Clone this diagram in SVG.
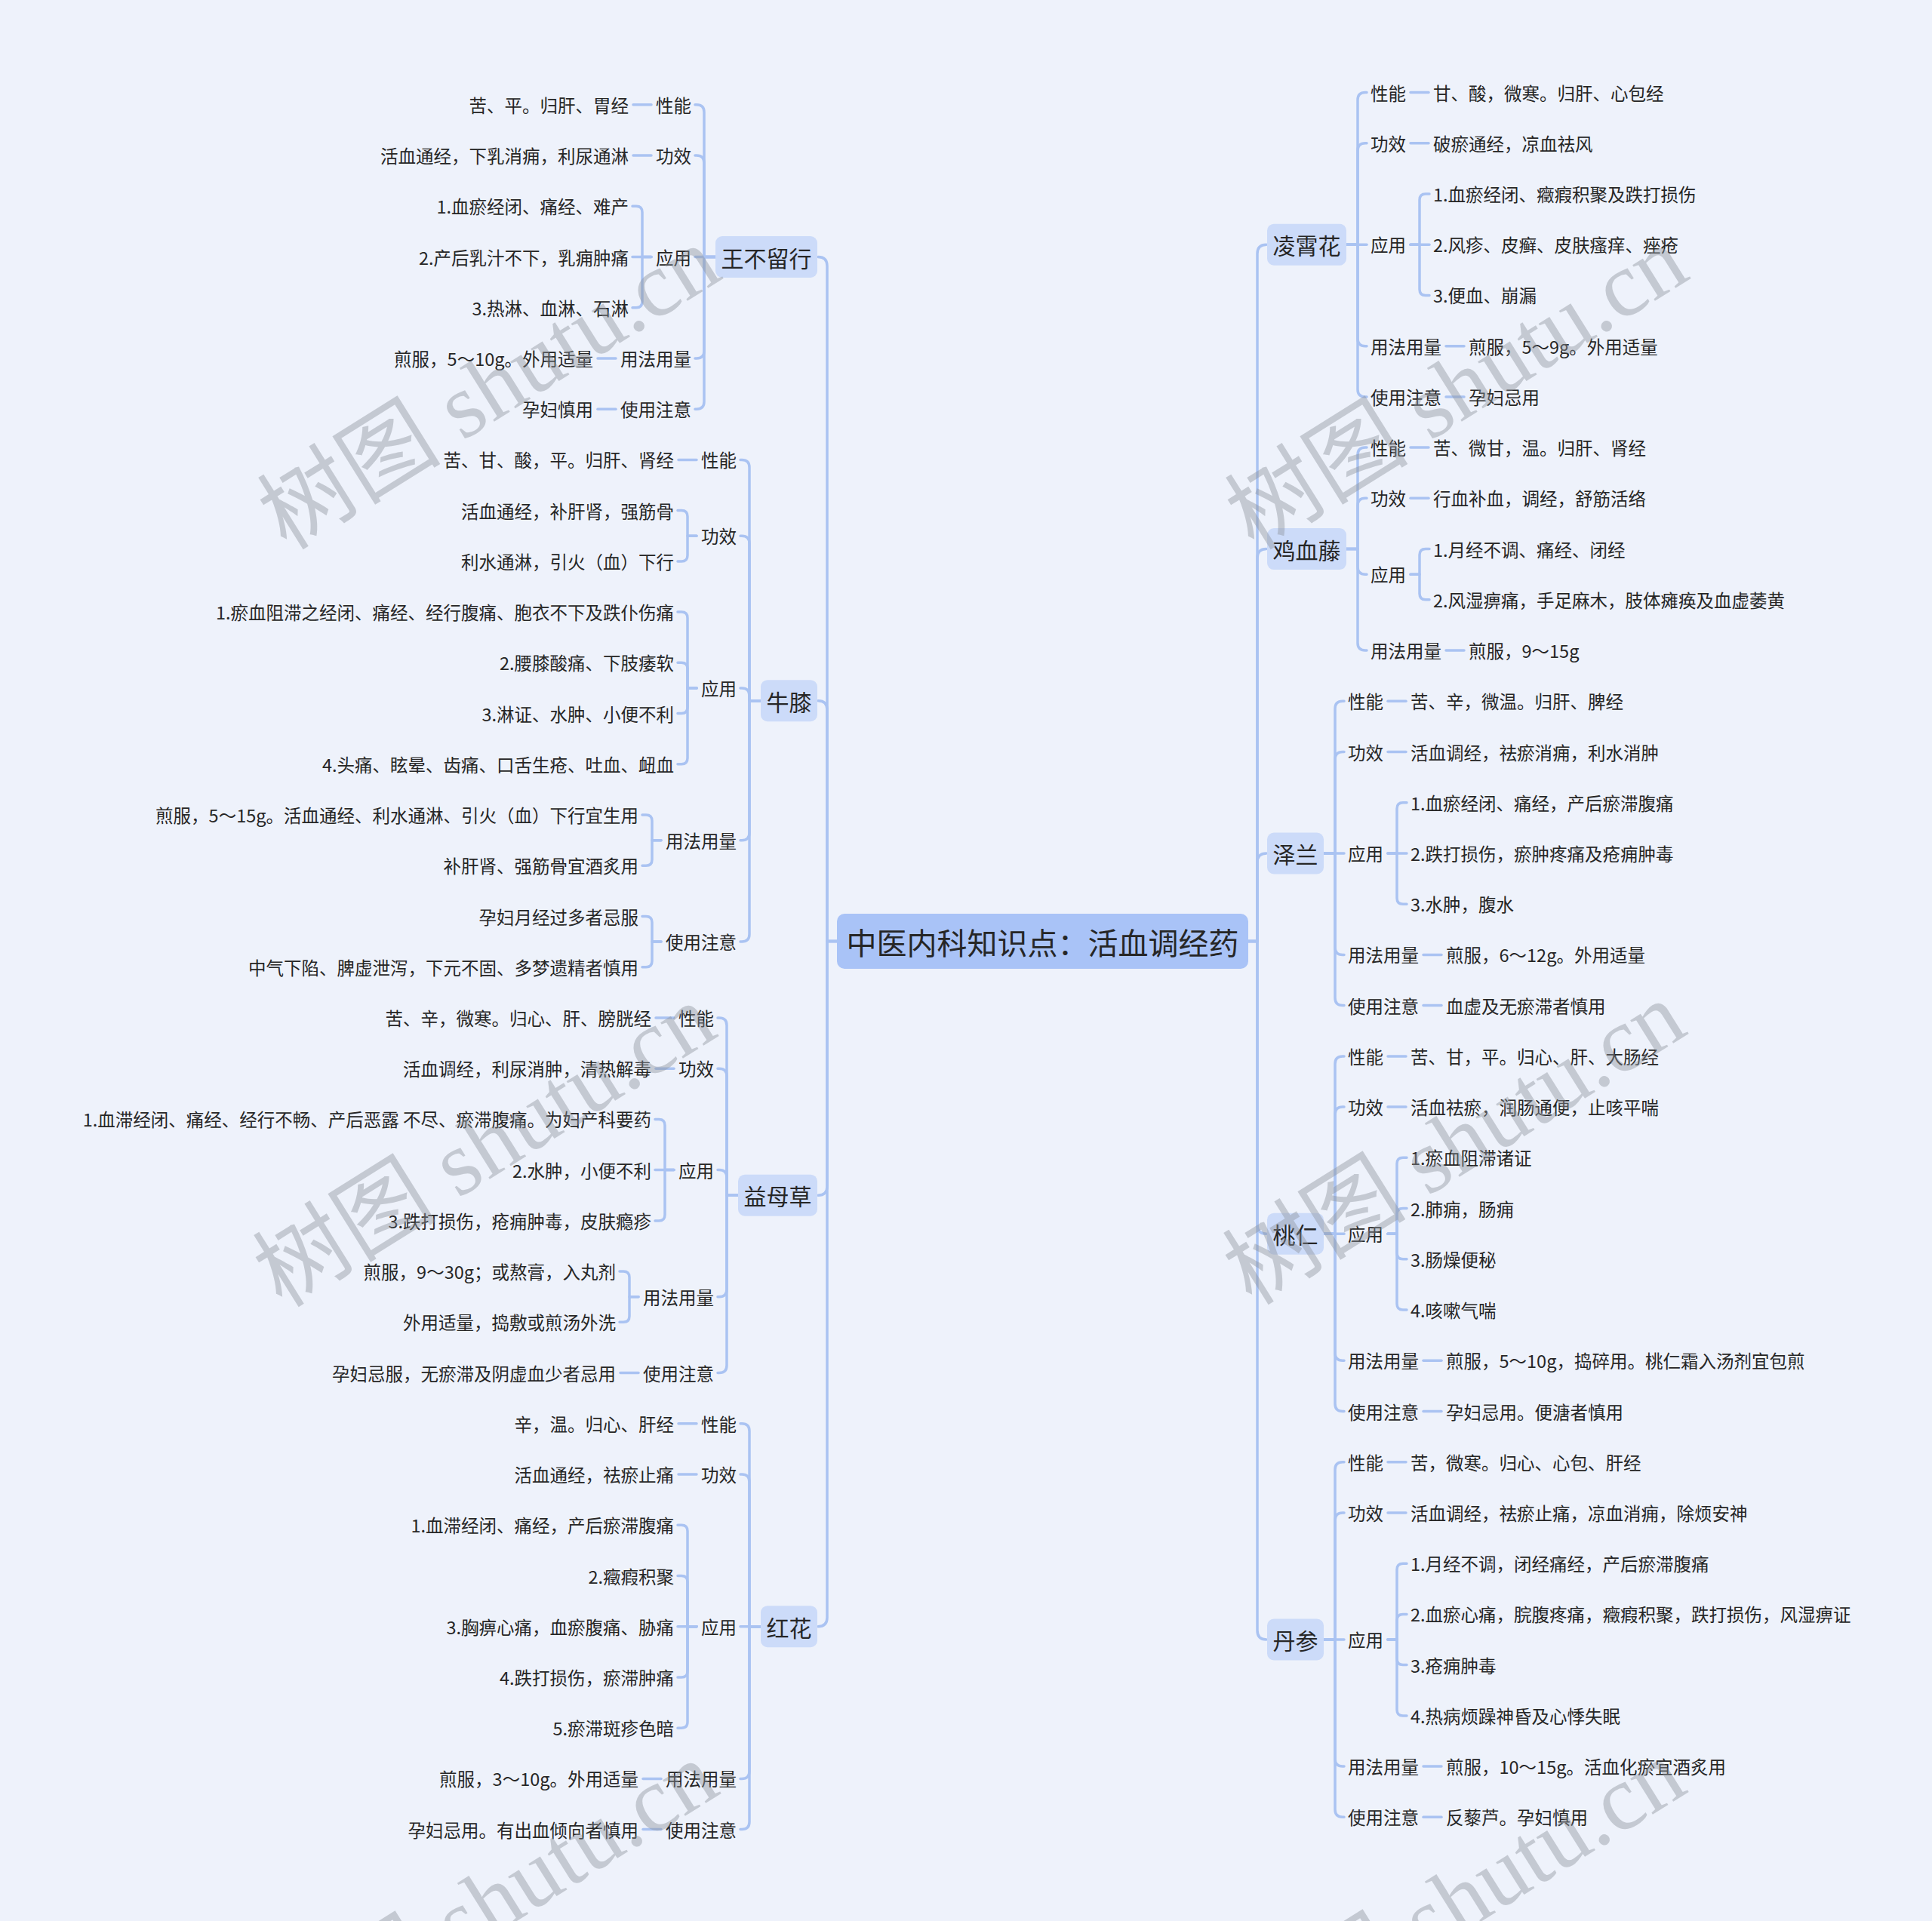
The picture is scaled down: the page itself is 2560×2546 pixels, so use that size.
<svg xmlns="http://www.w3.org/2000/svg" width="2560" height="2546" viewBox="0 0 2560 2546">
<style>
.c{fill:none;stroke:#AAC3F2;stroke-width:3.5;stroke-linecap:round;stroke-linejoin:round}
text{font-family:"Noto Sans CJK SC","Noto Sans",sans-serif;fill:#262626;dominant-baseline:central}
.s{font-size:23.5px}
.e{text-anchor:end}
.m{text-anchor:middle}
.d{font-size:30px}
.r{font-size:40px}
.b1{fill:#CCDBF9}
.b0{fill:#A9C3F7}
.wm{font-family:"Liberation Serif","Noto Sans CJK SC",serif;font-size:122px;fill:#8C929B;opacity:.42;text-anchor:middle}
</style>
<rect width="2560" height="2546" fill="#EEF2FB"/>
<g id="connectors">
<!-- trunk left -->
<path class="c" d="M1109,1247.5 H1096 V352.5 Q1096,340.5 1084,340.5"/>
<path class="c" d="M1109,1247.5 H1096 V940.7 Q1096,928.7 1084,928.7"/>
<path class="c" d="M1109,1247.5 H1096 V1572.2 Q1096,1584.2 1084,1584.2"/>
<path class="c" d="M1109,1247.5 H1096 V2143.7 Q1096,2155.7 1084,2155.7"/>
<!-- trunk right -->
<path class="c" d="M1654,1247.5 H1666 V336.2 Q1666,324.2 1678,324.2"/>
<path class="c" d="M1654,1247.5 H1666 V739.6 Q1666,727.6 1678,727.6"/>
<path class="c" d="M1654,1247.5 H1666 V1143 Q1666,1131 1678,1131"/>
<path class="c" d="M1654,1247.5 H1666 V1623.2 Q1666,1635.2 1678,1635.2"/>
<path class="c" d="M1654,1247.5 H1666 V2161 Q1666,2173 1678,2173"/>
<!-- 王不留行 -->
<path class="c" d="M948,340.5 H933 V148.8 Q933,138.8 923,138.8 H921"/>
<path class="c" d="M948,340.5 H933 V216 Q933,206 923,206 H921"/>
<path class="c" d="M948,340.5 H921"/>
<path class="c" d="M948,340.5 H933 V465 Q933,475 923,475 H921"/>
<path class="c" d="M948,340.5 H933 V532.2 Q933,542.2 923,542.2 H921"/>
<path class="c" d="M863,138.8 H839"/>
<path class="c" d="M863,206 H839"/>
<path class="c" d="M863,340.5 H851 V281.3 Q851,273.3 843,273.3 H838"/>
<path class="c" d="M863,340.5 H838"/>
<path class="c" d="M863,340.5 H851 V399.7 Q851,407.7 843,407.7 H838"/>
<path class="c" d="M816,475 H792"/>
<path class="c" d="M816,542.2 H792"/>
<!-- 牛膝 -->
<path class="c" d="M1008,928.7 H993 V619.4 Q993,609.4 983,609.4 H981"/>
<path class="c" d="M1008,928.7 H993 V720.3 Q993,710.3 983,710.3 H981"/>
<path class="c" d="M1008,928.7 H993 V921.9 Q993,911.9 983,911.9 H981"/>
<path class="c" d="M1008,928.7 H993 V1103.7 Q993,1113.7 983,1113.7 H981"/>
<path class="c" d="M1008,928.7 H993 V1238.1 Q993,1248.1 983,1248.1 H981"/>
<path class="c" d="M923,609.4 H899"/>
<path class="c" d="M923,710.3 H911 V684.6 Q911,676.6 903,676.6 H898"/>
<path class="c" d="M923,710.3 H911 V735.9 Q911,743.9 903,743.9 H898"/>
<path class="c" d="M923,911.9 H911 V819.1 Q911,811.1 903,811.1 H898"/>
<path class="c" d="M923,911.9 H911 V886.3 Q911,878.3 903,878.3 H898"/>
<path class="c" d="M923,911.9 H911 V937.6 Q911,945.6 903,945.6 H898"/>
<path class="c" d="M923,911.9 H911 V1004.8 Q911,1012.8 903,1012.8 H898"/>
<path class="c" d="M876,1113.7 H864 V1088 Q864,1080 856,1080 H851"/>
<path class="c" d="M876,1113.7 H864 V1139.3 Q864,1147.3 856,1147.3 H851"/>
<path class="c" d="M876,1248.1 H864 V1222.5 Q864,1214.5 856,1214.5 H851"/>
<path class="c" d="M876,1248.1 H864 V1273.7 Q864,1281.7 856,1281.7 H851"/>
<!-- 益母草 -->
<path class="c" d="M978,1584.2 H963 V1358.9 Q963,1348.9 953,1348.9 H951"/>
<path class="c" d="M978,1584.2 H963 V1426.2 Q963,1416.2 953,1416.2 H951"/>
<path class="c" d="M978,1584.2 H963 V1560.6 Q963,1550.6 953,1550.6 H951"/>
<path class="c" d="M978,1584.2 H963 V1708.7 Q963,1718.7 953,1718.7 H951"/>
<path class="c" d="M978,1584.2 H963 V1809.6 Q963,1819.6 953,1819.6 H951"/>
<path class="c" d="M893,1348.9 H869"/>
<path class="c" d="M893,1416.2 H869"/>
<path class="c" d="M893,1550.6 H881 V1491.4 Q881,1483.4 873,1483.4 H868"/>
<path class="c" d="M893,1550.6 H868"/>
<path class="c" d="M893,1550.6 H881 V1609.9 Q881,1617.9 873,1617.9 H868"/>
<path class="c" d="M846,1718.7 H834 V1693.1 Q834,1685.1 826,1685.1 H821"/>
<path class="c" d="M846,1718.7 H834 V1744.3 Q834,1752.3 826,1752.3 H821"/>
<path class="c" d="M846,1819.6 H822"/>
<!-- 红花 -->
<path class="c" d="M1008,2155.7 H993 V1896.8 Q993,1886.8 983,1886.8 H981"/>
<path class="c" d="M1008,2155.7 H993 V1964 Q993,1954 983,1954 H981"/>
<path class="c" d="M1008,2155.7 H981"/>
<path class="c" d="M1008,2155.7 H993 V2347.4 Q993,2357.4 983,2357.4 H981"/>
<path class="c" d="M1008,2155.7 H993 V2414.6 Q993,2424.6 983,2424.6 H981"/>
<path class="c" d="M923,1886.8 H899"/>
<path class="c" d="M923,1954 H899"/>
<path class="c" d="M923,2155.7 H911 V2029.2 Q911,2021.2 903,2021.2 H898"/>
<path class="c" d="M923,2155.7 H911 V2096.5 Q911,2088.5 903,2088.5 H898"/>
<path class="c" d="M923,2155.7 H898"/>
<path class="c" d="M923,2155.7 H911 V2214.9 Q911,2222.9 903,2222.9 H898"/>
<path class="c" d="M923,2155.7 H911 V2282.2 Q911,2290.2 903,2290.2 H898"/>
<path class="c" d="M876,2357.4 H852"/>
<path class="c" d="M876,2424.6 H852"/>
<!-- 凌霄花 -->
<path class="c" d="M1784,324.2 H1799 V132.5 Q1799,122.5 1809,122.5 H1811"/>
<path class="c" d="M1784,324.2 H1799 V199.7 Q1799,189.7 1809,189.7 H1811"/>
<path class="c" d="M1784,324.2 H1811"/>
<path class="c" d="M1784,324.2 H1799 V448.7 Q1799,458.7 1809,458.7 H1811"/>
<path class="c" d="M1784,324.2 H1799 V515.9 Q1799,525.9 1809,525.9 H1811"/>
<path class="c" d="M1869,122.5 H1893"/>
<path class="c" d="M1869,189.7 H1893"/>
<path class="c" d="M1869,324.2 H1881 V265 Q1881,257 1889,257 H1894"/>
<path class="c" d="M1869,324.2 H1894"/>
<path class="c" d="M1869,324.2 H1881 V383.4 Q1881,391.4 1889,391.4 H1894"/>
<path class="c" d="M1916,458.7 H1940"/>
<path class="c" d="M1916,525.9 H1940"/>
<!-- 鸡血藤 -->
<path class="c" d="M1784,727.6 H1799 V603.1 Q1799,593.1 1809,593.1 H1811"/>
<path class="c" d="M1784,727.6 H1799 V670.3 Q1799,660.3 1809,660.3 H1811"/>
<path class="c" d="M1784,727.6 H1799 V751.2 Q1799,761.2 1809,761.2 H1811"/>
<path class="c" d="M1784,727.6 H1799 V852 Q1799,862 1809,862 H1811"/>
<path class="c" d="M1869,593.1 H1893"/>
<path class="c" d="M1869,660.3 H1893"/>
<path class="c" d="M1869,761.2 H1881 V735.6 Q1881,727.6 1889,727.6 H1894"/>
<path class="c" d="M1869,761.2 H1881 V786.8 Q1881,794.8 1889,794.8 H1894"/>
<path class="c" d="M1916,862 H1940"/>
<!-- 泽兰 -->
<path class="c" d="M1754,1131 H1769 V939.3 Q1769,929.3 1779,929.3 H1781"/>
<path class="c" d="M1754,1131 H1769 V1006.5 Q1769,996.5 1779,996.5 H1781"/>
<path class="c" d="M1754,1131 H1781"/>
<path class="c" d="M1754,1131 H1769 V1255.4 Q1769,1265.4 1779,1265.4 H1781"/>
<path class="c" d="M1754,1131 H1769 V1322.6 Q1769,1332.6 1779,1332.6 H1781"/>
<path class="c" d="M1839,929.3 H1863"/>
<path class="c" d="M1839,996.5 H1863"/>
<path class="c" d="M1839,1131 H1851 V1071.7 Q1851,1063.7 1859,1063.7 H1864"/>
<path class="c" d="M1839,1131 H1864"/>
<path class="c" d="M1839,1131 H1851 V1190.2 Q1851,1198.2 1859,1198.2 H1864"/>
<path class="c" d="M1886,1265.4 H1910"/>
<path class="c" d="M1886,1332.6 H1910"/>
<!-- 桃仁 -->
<path class="c" d="M1754,1635.2 H1769 V1409.9 Q1769,1399.9 1779,1399.9 H1781"/>
<path class="c" d="M1754,1635.2 H1769 V1477.1 Q1769,1467.1 1779,1467.1 H1781"/>
<path class="c" d="M1754,1635.2 H1781"/>
<path class="c" d="M1754,1635.2 H1769 V1793.3 Q1769,1803.3 1779,1803.3 H1781"/>
<path class="c" d="M1754,1635.2 H1769 V1860.5 Q1769,1870.5 1779,1870.5 H1781"/>
<path class="c" d="M1839,1399.9 H1863"/>
<path class="c" d="M1839,1467.1 H1863"/>
<path class="c" d="M1839,1635.2 H1851 V1542.3 Q1851,1534.3 1859,1534.3 H1864"/>
<path class="c" d="M1839,1635.2 H1851 V1609.6 Q1851,1601.6 1859,1601.6 H1864"/>
<path class="c" d="M1839,1635.2 H1851 V1660.8 Q1851,1668.8 1859,1668.8 H1864"/>
<path class="c" d="M1839,1635.2 H1851 V1728 Q1851,1736 1859,1736 H1864"/>
<path class="c" d="M1886,1803.3 H1910"/>
<path class="c" d="M1886,1870.5 H1910"/>
<!-- 丹参 -->
<path class="c" d="M1754,2173 H1769 V1947.7 Q1769,1937.7 1779,1937.7 H1781"/>
<path class="c" d="M1754,2173 H1769 V2014.9 Q1769,2004.9 1779,2004.9 H1781"/>
<path class="c" d="M1754,2173 H1781"/>
<path class="c" d="M1754,2173 H1769 V2331.1 Q1769,2341.1 1779,2341.1 H1781"/>
<path class="c" d="M1754,2173 H1769 V2398.3 Q1769,2408.3 1779,2408.3 H1781"/>
<path class="c" d="M1839,1937.7 H1863"/>
<path class="c" d="M1839,2004.9 H1863"/>
<path class="c" d="M1839,2173 H1851 V2080.2 Q1851,2072.2 1859,2072.2 H1864"/>
<path class="c" d="M1839,2173 H1851 V2147.4 Q1851,2139.4 1859,2139.4 H1864"/>
<path class="c" d="M1839,2173 H1851 V2198.6 Q1851,2206.6 1859,2206.6 H1864"/>
<path class="c" d="M1839,2173 H1851 V2265.9 Q1851,2273.9 1859,2273.9 H1864"/>
<path class="c" d="M1886,2341.1 H1910"/>
<path class="c" d="M1886,2408.3 H1910"/>
</g>

<g id="root"><rect class="b0" x="1109" y="1211" width="545" height="73" rx="10"/><text class="r m" x="1381.5" y="1247.5">中医内科知识点：活血调经药</text></g>

<!-- 王不留行 -->
<g id="wbl"><rect class="b1" x="948" y="313" width="135" height="55" rx="9"/><text class="d m" x="1015.5" y="340.5">王不留行</text></g>
<g id="wbl-xn"><text class="s e" x="916" y="138.8">性能</text></g>
<g id="wbl-xn-1"><text class="s e" x="833" y="138.8">苦、平。归肝、胃经</text></g>
<g id="wbl-gx"><text class="s e" x="916" y="206">功效</text></g>
<g id="wbl-gx-1"><text class="s e" x="833" y="206">活血通经，下乳消痈，利尿通淋</text></g>
<g id="wbl-yy"><text class="s e" x="916" y="340.5">应用</text></g>
<g id="wbl-yy-1"><text class="s e" x="833" y="273.3">1.血瘀经闭、痛经、难产</text></g>
<g id="wbl-yy-2"><text class="s e" x="833" y="340.5">2.产后乳汁不下，乳痈肿痛</text></g>
<g id="wbl-yy-3"><text class="s e" x="833" y="407.7">3.热淋、血淋、石淋</text></g>
<g id="wbl-yf"><text class="s e" x="916" y="475">用法用量</text></g>
<g id="wbl-yf-1"><text class="s e" x="786" y="475">煎服，5～10g。外用适量</text></g>
<g id="wbl-zy"><text class="s e" x="916" y="542.2">使用注意</text></g>
<g id="wbl-zy-1"><text class="s e" x="786" y="542.2">孕妇慎用</text></g>

<!-- 牛膝 -->
<g id="nx"><rect class="b1" x="1008" y="901.2" width="75" height="55" rx="9"/><text class="d m" x="1045.5" y="928.7">牛膝</text></g>
<g id="nx-xn"><text class="s e" x="976" y="609.4">性能</text></g>
<g id="nx-xn-1"><text class="s e" x="893" y="609.4">苦、甘、酸，平。归肝、肾经</text></g>
<g id="nx-gx"><text class="s e" x="976" y="710.3">功效</text></g>
<g id="nx-gx-1"><text class="s e" x="893" y="676.6">活血通经，补肝肾，强筋骨</text></g>
<g id="nx-gx-2"><text class="s e" x="893" y="743.9">利水通淋，引火（血）下行</text></g>
<g id="nx-yy"><text class="s e" x="976" y="911.9">应用</text></g>
<g id="nx-yy-1"><text class="s e" x="893" y="811.1">1.瘀血阻滞之经闭、痛经、经行腹痛、胞衣不下及跌仆伤痛</text></g>
<g id="nx-yy-2"><text class="s e" x="893" y="878.3">2.腰膝酸痛、下肢痿软</text></g>
<g id="nx-yy-3"><text class="s e" x="893" y="945.6">3.淋证、水肿、小便不利</text></g>
<g id="nx-yy-4"><text class="s e" x="893" y="1012.8">4.头痛、眩晕、齿痛、口舌生疮、吐血、衄血</text></g>
<g id="nx-yf"><text class="s e" x="976" y="1113.7">用法用量</text></g>
<g id="nx-yf-1"><text class="s e" x="846" y="1080">煎服，5～15g。活血通经、利水通淋、引火（血）下行宜生用</text></g>
<g id="nx-yf-2"><text class="s e" x="846" y="1147.3">补肝肾、强筋骨宜酒炙用</text></g>
<g id="nx-zy"><text class="s e" x="976" y="1248.1">使用注意</text></g>
<g id="nx-zy-1"><text class="s e" x="846" y="1214.5">孕妇月经过多者忌服</text></g>
<g id="nx-zy-2"><text class="s e" x="846" y="1281.7">中气下陷、脾虚泄泻，下元不固、多梦遗精者慎用</text></g>

<!-- 益母草 -->
<g id="ymc"><rect class="b1" x="978" y="1556.7" width="105" height="55" rx="9"/><text class="d m" x="1030.5" y="1584.2">益母草</text></g>
<g id="ymc-xn"><text class="s e" x="946" y="1348.9">性能</text></g>
<g id="ymc-xn-1"><text class="s e" x="863" y="1348.9">苦、辛，微寒。归心、肝、膀胱经</text></g>
<g id="ymc-gx"><text class="s e" x="946" y="1416.2">功效</text></g>
<g id="ymc-gx-1"><text class="s e" x="863" y="1416.2">活血调经，利尿消肿，清热解毒</text></g>
<g id="ymc-yy"><text class="s e" x="946" y="1550.6">应用</text></g>
<g id="ymc-yy-1"><text class="s e" x="863" y="1483.4">1.血滞经闭、痛经、经行不畅、产后恶露 不尽、瘀滞腹痛。为妇产科要药</text></g>
<g id="ymc-yy-2"><text class="s e" x="863" y="1550.6">2.水肿，小便不利</text></g>
<g id="ymc-yy-3"><text class="s e" x="863" y="1617.9">3.跌打损伤，疮痈肿毒，皮肤瘾疹</text></g>
<g id="ymc-yf"><text class="s e" x="946" y="1718.7">用法用量</text></g>
<g id="ymc-yf-1"><text class="s e" x="816" y="1685.1">煎服，9～30g；或熬膏，入丸剂</text></g>
<g id="ymc-yf-2"><text class="s e" x="816" y="1752.3">外用适量，捣敷或煎汤外洗</text></g>
<g id="ymc-zy"><text class="s e" x="946" y="1819.6">使用注意</text></g>
<g id="ymc-zy-1"><text class="s e" x="816" y="1819.6">孕妇忌服，无瘀滞及阴虚血少者忌用</text></g>

<!-- 红花 -->
<g id="hh"><rect class="b1" x="1008" y="2128.2" width="75" height="55" rx="9"/><text class="d m" x="1045.5" y="2155.7">红花</text></g>
<g id="hh-xn"><text class="s e" x="976" y="1886.8">性能</text></g>
<g id="hh-xn-1"><text class="s e" x="893" y="1886.8">辛，温。归心、肝经</text></g>
<g id="hh-gx"><text class="s e" x="976" y="1954">功效</text></g>
<g id="hh-gx-1"><text class="s e" x="893" y="1954">活血通经，祛瘀止痛</text></g>
<g id="hh-yy"><text class="s e" x="976" y="2155.7">应用</text></g>
<g id="hh-yy-1"><text class="s e" x="893" y="2021.2">1.血滞经闭、痛经，产后瘀滞腹痛</text></g>
<g id="hh-yy-2"><text class="s e" x="893" y="2088.5">2.癥瘕积聚</text></g>
<g id="hh-yy-3"><text class="s e" x="893" y="2155.7">3.胸痹心痛，血瘀腹痛、胁痛</text></g>
<g id="hh-yy-4"><text class="s e" x="893" y="2222.9">4.跌打损伤，瘀滞肿痛</text></g>
<g id="hh-yy-5"><text class="s e" x="893" y="2290.2">5.瘀滞斑疹色暗</text></g>
<g id="hh-yf"><text class="s e" x="976" y="2357.4">用法用量</text></g>
<g id="hh-yf-1"><text class="s e" x="846" y="2357.4">煎服，3～10g。外用适量</text></g>
<g id="hh-zy"><text class="s e" x="976" y="2424.6">使用注意</text></g>
<g id="hh-zy-1"><text class="s e" x="846" y="2424.6">孕妇忌用。有出血倾向者慎用</text></g>

<!-- 凌霄花 -->
<g id="lxh"><rect class="b1" x="1679" y="296.7" width="105" height="55" rx="9"/><text class="d m" x="1731.5" y="324.2">凌霄花</text></g>
<g id="lxh-xn"><text class="s" x="1816" y="122.5">性能</text></g>
<g id="lxh-xn-1"><text class="s" x="1899" y="122.5">甘、酸，微寒。归肝、心包经</text></g>
<g id="lxh-gx"><text class="s" x="1816" y="189.7">功效</text></g>
<g id="lxh-gx-1"><text class="s" x="1899" y="189.7">破瘀通经，凉血祛风</text></g>
<g id="lxh-yy"><text class="s" x="1816" y="324.2">应用</text></g>
<g id="lxh-yy-1"><text class="s" x="1899" y="257">1.血瘀经闭、癥瘕积聚及跌打损伤</text></g>
<g id="lxh-yy-2"><text class="s" x="1899" y="324.2">2.风疹、皮癣、皮肤瘙痒、痤疮</text></g>
<g id="lxh-yy-3"><text class="s" x="1899" y="391.4">3.便血、崩漏</text></g>
<g id="lxh-yf"><text class="s" x="1816" y="458.7">用法用量</text></g>
<g id="lxh-yf-1"><text class="s" x="1946" y="458.7">煎服，5～9g。外用适量</text></g>
<g id="lxh-zy"><text class="s" x="1816" y="525.9">使用注意</text></g>
<g id="lxh-zy-1"><text class="s" x="1946" y="525.9">孕妇忌用</text></g>

<!-- 鸡血藤 -->
<g id="jxt"><rect class="b1" x="1679" y="700.1" width="105" height="55" rx="9"/><text class="d m" x="1731.5" y="727.6">鸡血藤</text></g>
<g id="jxt-xn"><text class="s" x="1816" y="593.1">性能</text></g>
<g id="jxt-xn-1"><text class="s" x="1899" y="593.1">苦、微甘，温。归肝、肾经</text></g>
<g id="jxt-gx"><text class="s" x="1816" y="660.3">功效</text></g>
<g id="jxt-gx-1"><text class="s" x="1899" y="660.3">行血补血，调经，舒筋活络</text></g>
<g id="jxt-yy"><text class="s" x="1816" y="761.2">应用</text></g>
<g id="jxt-yy-1"><text class="s" x="1899" y="727.6">1.月经不调、痛经、闭经</text></g>
<g id="jxt-yy-2"><text class="s" x="1899" y="794.8">2.风湿痹痛，手足麻木，肢体瘫痪及血虚萎黄</text></g>
<g id="jxt-yf"><text class="s" x="1816" y="862">用法用量</text></g>
<g id="jxt-yf-1"><text class="s" x="1946" y="862">煎服，9～15g</text></g>

<!-- 泽兰 -->
<g id="zl"><rect class="b1" x="1679" y="1103.5" width="75" height="55" rx="9"/><text class="d m" x="1716.5" y="1131">泽兰</text></g>
<g id="zl-xn"><text class="s" x="1786" y="929.3">性能</text></g>
<g id="zl-xn-1"><text class="s" x="1869" y="929.3">苦、辛，微温。归肝、脾经</text></g>
<g id="zl-gx"><text class="s" x="1786" y="996.5">功效</text></g>
<g id="zl-gx-1"><text class="s" x="1869" y="996.5">活血调经，祛瘀消痈，利水消肿</text></g>
<g id="zl-yy"><text class="s" x="1786" y="1131">应用</text></g>
<g id="zl-yy-1"><text class="s" x="1869" y="1063.7">1.血瘀经闭、痛经，产后瘀滞腹痛</text></g>
<g id="zl-yy-2"><text class="s" x="1869" y="1131">2.跌打损伤，瘀肿疼痛及疮痈肿毒</text></g>
<g id="zl-yy-3"><text class="s" x="1869" y="1198.2">3.水肿，腹水</text></g>
<g id="zl-yf"><text class="s" x="1786" y="1265.4">用法用量</text></g>
<g id="zl-yf-1"><text class="s" x="1916" y="1265.4">煎服，6～12g。外用适量</text></g>
<g id="zl-zy"><text class="s" x="1786" y="1332.6">使用注意</text></g>
<g id="zl-zy-1"><text class="s" x="1916" y="1332.6">血虚及无瘀滞者慎用</text></g>

<!-- 桃仁 -->
<g id="tr"><rect class="b1" x="1679" y="1607.7" width="75" height="55" rx="9"/><text class="d m" x="1716.5" y="1635.2">桃仁</text></g>
<g id="tr-xn"><text class="s" x="1786" y="1399.9">性能</text></g>
<g id="tr-xn-1"><text class="s" x="1869" y="1399.9">苦、甘，平。归心、肝、大肠经</text></g>
<g id="tr-gx"><text class="s" x="1786" y="1467.1">功效</text></g>
<g id="tr-gx-1"><text class="s" x="1869" y="1467.1">活血祛瘀，润肠通便，止咳平喘</text></g>
<g id="tr-yy"><text class="s" x="1786" y="1635.2">应用</text></g>
<g id="tr-yy-1"><text class="s" x="1869" y="1534.3">1.瘀血阻滞诸证</text></g>
<g id="tr-yy-2"><text class="s" x="1869" y="1601.6">2.肺痈，肠痈</text></g>
<g id="tr-yy-3"><text class="s" x="1869" y="1668.8">3.肠燥便秘</text></g>
<g id="tr-yy-4"><text class="s" x="1869" y="1736">4.咳嗽气喘</text></g>
<g id="tr-yf"><text class="s" x="1786" y="1803.3">用法用量</text></g>
<g id="tr-yf-1"><text class="s" x="1916" y="1803.3">煎服，5～10g，捣碎用。桃仁霜入汤剂宜包煎</text></g>
<g id="tr-zy"><text class="s" x="1786" y="1870.5">使用注意</text></g>
<g id="tr-zy-1"><text class="s" x="1916" y="1870.5">孕妇忌用。便溏者慎用</text></g>

<!-- 丹参 -->
<g id="ds"><rect class="b1" x="1679" y="2145.5" width="75" height="55" rx="9"/><text class="d m" x="1716.5" y="2173">丹参</text></g>
<g id="ds-xn"><text class="s" x="1786" y="1937.7">性能</text></g>
<g id="ds-xn-1"><text class="s" x="1869" y="1937.7">苦，微寒。归心、心包、肝经</text></g>
<g id="ds-gx"><text class="s" x="1786" y="2004.9">功效</text></g>
<g id="ds-gx-1"><text class="s" x="1869" y="2004.9">活血调经，祛瘀止痛，凉血消痈，除烦安神</text></g>
<g id="ds-yy"><text class="s" x="1786" y="2173">应用</text></g>
<g id="ds-yy-1"><text class="s" x="1869" y="2072.2">1.月经不调，闭经痛经，产后瘀滞腹痛</text></g>
<g id="ds-yy-2"><text class="s" x="1869" y="2139.4">2.血瘀心痛，脘腹疼痛，癥瘕积聚，跌打损伤，风湿痹证</text></g>
<g id="ds-yy-3"><text class="s" x="1869" y="2206.6">3.疮痈肿毒</text></g>
<g id="ds-yy-4"><text class="s" x="1869" y="2273.9">4.热病烦躁神昏及心悸失眠</text></g>
<g id="ds-yf"><text class="s" x="1786" y="2341.1">用法用量</text></g>
<g id="ds-yf-1"><text class="s" x="1916" y="2341.1">煎服，10～15g。活血化瘀宜酒炙用</text></g>
<g id="ds-zy"><text class="s" x="1786" y="2408.3">使用注意</text></g>
<g id="ds-zy-1"><text class="s" x="1916" y="2408.3">反藜芦。孕妇慎用</text></g>

<g id="watermarks">
<text class="wm" transform="translate(648,514) rotate(-32)">树图 shutu.cn</text>
<text class="wm" transform="translate(1930,514) rotate(-32)">树图 shutu.cn</text>
<text class="wm" transform="translate(642,1518) rotate(-32)">树图 shutu.cn</text>
<text class="wm" transform="translate(1927,1515) rotate(-32)">树图 shutu.cn</text>
<text class="wm" transform="translate(645,2522) rotate(-32)">树图 shutu.cn</text>
<text class="wm" transform="translate(1927,2520) rotate(-32)">树图 shutu.cn</text>
</g>
</svg>
